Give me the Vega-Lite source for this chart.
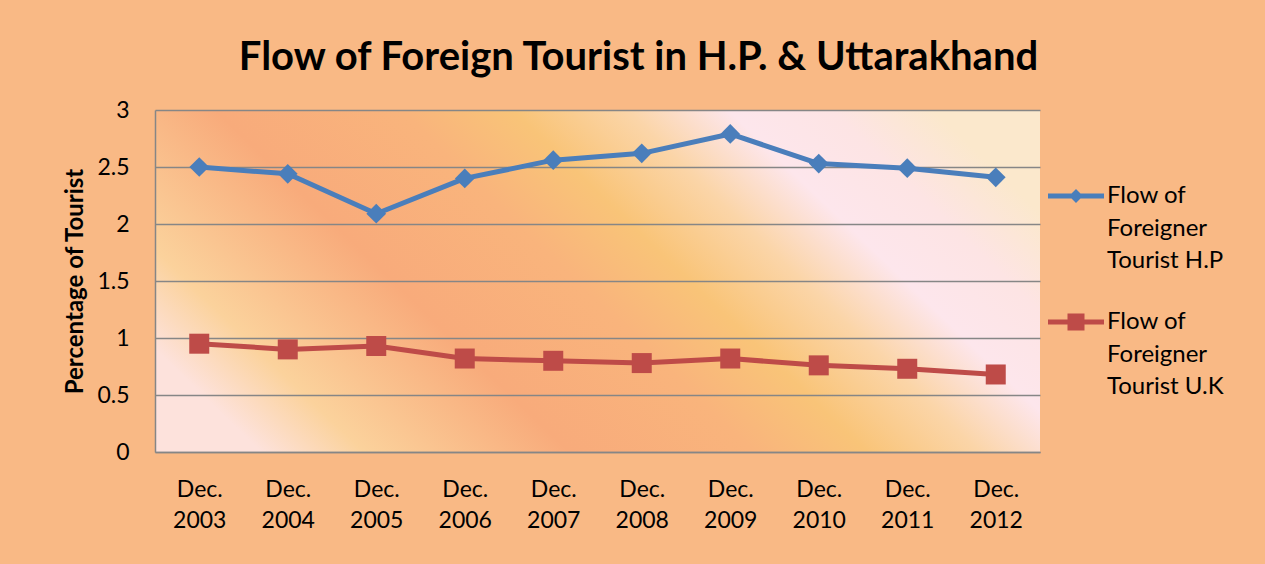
{
  "$schema": "https://vega.github.io/schema/vega-lite/v6.json",
  "width": 885,
  "height": 342,
  "autosize": {"type": "none"},
  "padding": {"left": 155, "top": 110, "right": 225, "bottom": 112},
  "background": "#f9b985",
  "view": {
    "stroke": null,
    "fill": {
      "gradient": "linear",
      "x1": 0, "y1": 0.7, "x2": 1, "y2": 0.3,
      "stops": [
        {"offset": 0, "color": "#fde2dc"},
        {"offset": 0.1, "color": "#fbd29c"},
        {"offset": 0.3, "color": "#f8ab7b"},
        {"offset": 0.48, "color": "#f9b47c"},
        {"offset": 0.59, "color": "#f9c478"},
        {"offset": 0.7, "color": "#fbd5a8"},
        {"offset": 0.8, "color": "#fde6ec"},
        {"offset": 0.9, "color": "#fde4e4"},
        {"offset": 1, "color": "#fbe8cc"}
      ]
    }
  },
  "title": {
    "text": "Flow of Foreign Tourist in H.P. & Uttarakhand",
    "font": "Lato",
    "fontSize": 40,
    "fontWeight": "bold",
    "color": "#000000",
    "anchor": "middle",
    "frame": "group",
    "dx": 41,
    "baseline": "alphabetic",
    "offset": -11
  },
  "data": {
    "values": [
      {"year": "2003", "series": "HP", "value": 2.50},
      {"year": "2004", "series": "HP", "value": 2.44},
      {"year": "2005", "series": "HP", "value": 2.09},
      {"year": "2006", "series": "HP", "value": 2.40},
      {"year": "2007", "series": "HP", "value": 2.56},
      {"year": "2008", "series": "HP", "value": 2.62},
      {"year": "2009", "series": "HP", "value": 2.79},
      {"year": "2010", "series": "HP", "value": 2.53},
      {"year": "2011", "series": "HP", "value": 2.49},
      {"year": "2012", "series": "HP", "value": 2.41},
      {"year": "2003", "series": "UK", "value": 0.95},
      {"year": "2004", "series": "UK", "value": 0.90},
      {"year": "2005", "series": "UK", "value": 0.93},
      {"year": "2006", "series": "UK", "value": 0.82},
      {"year": "2007", "series": "UK", "value": 0.80},
      {"year": "2008", "series": "UK", "value": 0.78},
      {"year": "2009", "series": "UK", "value": 0.82},
      {"year": "2010", "series": "UK", "value": 0.76},
      {"year": "2011", "series": "UK", "value": 0.73},
      {"year": "2012", "series": "UK", "value": 0.68}
    ]
  },
  "layer": [
    {
      "mark": {"type": "line", "strokeWidth": 5, "strokeJoin": "round", "strokeCap": "round"},
      "encoding": {
        "x": {"field": "year", "type": "ordinal", "scale": {"type": "point", "padding": 0.5}, "axis": {"labelExpr": "['Dec.', datum.label]", "title": null}},
        "y": {"field": "value", "type": "quantitative", "scale": {"domain": [0, 3], "nice": false}, "axis": {"values": [0, 0.5, 1, 1.5, 2, 2.5, 3], "format": "~g", "title": "Percentage of Tourist"}},
        "color": {"field": "series", "type": "nominal", "scale": {"domain": ["HP", "UK"], "range": ["#4a7ebb", "#be4b48"]}}
      }
    },
    {
      "transform": [{"filter": "datum.series == 'HP'"}],
      "mark": {"type": "point", "shape": "diamond", "filled": true, "size": 390, "color": "#4a7ebb", "opacity": 1},
      "encoding": {
        "x": {"field": "year", "type": "ordinal"},
        "y": {"field": "value", "type": "quantitative"}
      }
    },
    {
      "transform": [{"filter": "datum.series == 'UK'"}],
      "mark": {"type": "point", "shape": "square", "filled": true, "size": 400, "color": "#be4b48", "opacity": 1},
      "encoding": {
        "x": {"field": "year", "type": "ordinal"},
        "y": {"field": "value", "type": "quantitative"}
      }
    },
    {
      "transform": [{"filter": "false"}],
      "mark": {"type": "point", "filled": true, "size": 289, "opacity": 1},
      "encoding": {
        "x": {"field": "year", "type": "ordinal"},
        "y": {"field": "value", "type": "quantitative"},
        "color": {
          "field": "series", "type": "nominal",
          "legend": {
            "title": null,
            "orient": "right",
            "offset": -66,
            "padding": 74,
            "symbolSize": 289,
            "symbolOpacity": 1,
            "symbolStrokeWidth": 0,
            "symbolOffset": 16,
            "labelOffset": 19,
            "labelFont": "Lato",
            "labelFontSize": 24,
            "labelColor": "#000000",
            "labelBaseline": "middle",
            "labelLimit": 300,
            "rowPadding": 37,
            "labelExpr": "datum.label == 'HP' ? ['Flow of', 'Foreigner', 'Tourist H.P'] : ['Flow of', 'Foreigner', 'Tourist U.K']"
          }
        },
        "shape": {
          "field": "series", "type": "nominal",
          "scale": {
            "domain": ["HP", "UK"],
            "range": [
              "M-3.294,-0.294L3.294,-0.294L3.294,0.294L-3.294,0.294Z M0,-0.82L0.82,0L0,0.82L-0.82,0Z",
              "M-3.294,-0.294L3.294,-0.294L3.294,0.294L-3.294,0.294Z M-1,-1L1,-1L1,1L-1,1Z"
            ]
          }
        }
      }
    }
  ],
  "config": {
    "font": "Lato",
    "style": {"guide-label": {"lineHeight": 32.5}},
    "axis": {
      "domainColor": "#868686",
      "domainWidth": 1.5,
      "ticks": false,
      "labelColor": "#000000",
      "labelFont": "Lato",
      "labelFontSize": 23,
      "titleColor": "#000000",
      "titleFont": "Lato",
      "titleFontSize": 24,
      "titleFontWeight": "bold"
    },
    "axisX": {
      "grid": false,
      "labelAngle": 0,
      "labelPadding": 26,
      "labelLineHeight": 31,
      "labelOverlap": false
    },
    "axisY": {
      "grid": true,
      "gridColor": "#868686",
      "gridWidth": 1.5,
      "labelPadding": 26,
      "titlePadding": 9
    }
  }
}
